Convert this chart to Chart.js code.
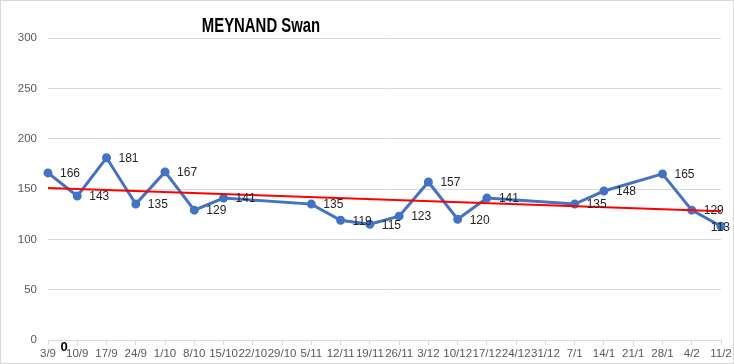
<!DOCTYPE html>
<html>
<head>
<meta charset="utf-8">
<script src="https://cdn.jsdelivr.net/npm/chart.js@4"></script>
<style>
  html, body { margin: 0; padding: 0; background: #fff; }
  #wrap { width: 734px; height: 364px; }
</style>
</head>
<body>
<div id="wrap"><canvas id="c" width="734" height="364"></canvas></div>
<script>
// data
const labels = ['3/9', '10/9', '17/9', '24/9', '1/10', '8/10', '15/10', '22/10', '29/10', '5/11', '12/11', '19/11',
  '26/11', '3/12', '10/12', '17/12', '24/12', '31/12', '7/1', '14/1', '21/1', '28/1', '4/2', '11/2'];
const scores = [166, 143, 181, 135, 167, 129, 141, null, null, 135, 119, 115,
  123, 157, 120, 141, null, null, 135, 148, null, 165, 129, 113];
// trend line ends (Excel linear trendline)
const trend = [151, null, null, null, null, null, null, null, null, null, null, null,
  null, null, null, null, null, null, null, null, null, null, null, 128];
const yTicks = [0, 50, 100, 150, 200, 250, 300];
const title = 'MEYNAND Swan';

const sans = '"Liberation Sans", Arial, sans-serif';

// draw labels, title, border
const extras = {
  id: 'extras',
  beforeDraw(chart) {
    const ctx = chart.ctx;
    ctx.save();
    ctx.fillStyle = '#fff';
    ctx.fillRect(0, 0, chart.width, chart.height);
    ctx.restore();
  },
  afterDraw(chart) {
    const ctx = chart.ctx;
    const meta = chart.getDatasetMeta(0);
    ctx.save();
    ctx.font = '12px ' + sans;
    ctx.fillStyle = '#262626';
    ctx.textBaseline = 'middle';
    ctx.textAlign = 'left';
    meta.data.forEach((pt, i) => {
      if (scores[i] == null) return;
      const txt = String(scores[i]);
      const w = ctx.measureText(txt).width;
      let x = pt.x + 12;
      if (x + w > chart.width - 4) x = chart.width - 4 - w; // keep inside chart like Excel
      ctx.fillText(txt, x, pt.y + 1);
    });

    // stray "0" label under the axis
    const xs = chart.scales.x, ys = chart.scales.y;
    ctx.font = 'bold 13px ' + sans;
    ctx.fillStyle = '#000';
    ctx.textAlign = 'center';
    ctx.fillText('0', (xs.getPixelForValue(0) * 0.45 + xs.getPixelForValue(1) * 0.55), ys.getPixelForValue(0) + 7);

    // title (condensed, Calibri-like)
    ctx.font = 'bold 21px ' + sans;
    ctx.fillStyle = '#000';
    ctx.textAlign = 'center';
    ctx.translate(261, 26);
    ctx.scale(0.71, 1);
    ctx.fillText(title, 0, 0);
    ctx.setTransform(1, 0, 0, 1, 0, 0);

    // outer border
    ctx.strokeStyle = '#d9d9d9';
    ctx.lineWidth = 1;
    ctx.strokeRect(0.5, 0.5, chart.width - 1, chart.height - 1);
    ctx.restore();
  }
};

new Chart(document.getElementById('c'), {
  type: 'line',
  data: {
    labels: labels,
    datasets: [
      {
        data: scores,
        borderColor: '#4472C4',
        backgroundColor: '#4472C4',
        borderWidth: 3,
        pointRadius: 3,
        pointHoverRadius: 3,
        spanGaps: true,
        tension: 0,
        order: 1
      },
      {
        data: trend,
        borderColor: '#ff0000',
        borderWidth: 2,
        pointRadius: 0,
        spanGaps: true,
        order: 0
      }
    ]
  },
  options: {
    responsive: false,
    animation: false,
    layout: { padding: { top: 38, right: 13, left: 0, bottom: 0 } },
    plugins: {
      legend: { display: false },
      title: { display: false },
      tooltip: { enabled: false }
    },
    scales: {
      x: {
        offset: false,
        afterFit: s => { s.height = 24; },
        grid: { display: true, drawOnChartArea: false, drawTicks: true, tickLength: 5, color: '#d9d9d9' },
        border: { display: true, color: '#d9d9d9' },
        ticks: {
          autoSkip: false,
          maxRotation: 0,
          minRotation: 0,
          padding: 2,
          color: '#595959',
          font: { size: 11.5, family: sans }
        }
      },
      y: {
        min: 0,
        max: 300,
        afterFit: s => { s.width = 48; },
        afterBuildTicks: s => { s.ticks = yTicks.map(v => ({ value: v })); },
        grid: { color: '#d9d9d9', drawTicks: false },
        border: { display: false },
        ticks: {
          padding: 11,
          color: '#595959',
          font: { size: 11.5, family: sans }
        }
      }
    }
  },
  plugins: [extras]
});
</script>
</body>
</html>
